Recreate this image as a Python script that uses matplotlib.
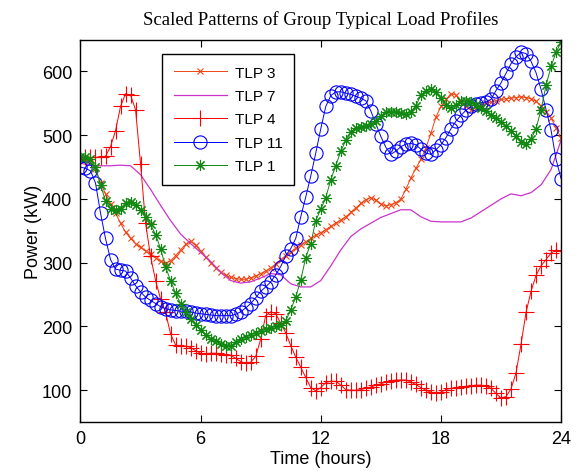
import numpy as np
import matplotlib
matplotlib.use('Agg')
import matplotlib.pyplot as plt

# time axes (15 min steps for marked series, 30 min for TLP 7)
t = np.arange(97) * 0.25
t_half = np.arange(49) * 0.5

tlp3 = [465, 463, 458, 447, 425, 408, 392, 378, 362, 348, 338, 330, 324, 318, 313, 308,
        302, 299, 303, 311, 320, 329, 334, 327, 318, 309, 300, 292, 285, 280, 277, 275,
        274, 274, 276, 279, 283, 287, 292, 298, 305, 311, 317, 323, 328, 333, 338, 343,
        347, 352, 357, 362, 367, 372, 379, 386, 393, 399, 402, 398, 392, 389, 391, 394,
        400, 415, 433, 448, 462, 480, 503, 528, 545, 556, 565, 563, 552, 545, 540, 543,
        547, 550, 552, 554, 556, 557, 558, 559, 560, 559, 557, 553, 546, 537, 527, 512,
        495]

tlp7 = [456, 453, 452, 452, 453, 452, 438, 415, 390, 366, 345, 330, 316, 302, 285, 272,
        268, 270, 276, 283, 281, 267, 262, 262, 272, 295, 320, 341, 353, 362, 371, 377,
        383, 383, 372, 365, 364, 364, 364, 370, 380, 390, 400, 408, 405, 410, 422, 446,
        492]

tlp4 = [463, 466, 465, 465, 466, 467, 482, 507, 545, 565, 563, 540, 455, 362, 310, 272,
        243, 222, 188, 171, 169, 169, 167, 162, 158, 157, 158, 158, 157, 156, 155, 150,
        145, 142, 144, 153, 180, 217, 223, 220, 205, 190, 170, 152, 136, 120, 104, 99,
        104, 112, 114, 114, 108, 101, 100, 100, 101, 103, 105, 108, 110, 113, 115, 116,
        116, 116, 113, 109, 104, 100, 97, 95, 97, 101, 103, 104, 105, 106, 107, 108,
        108, 106, 103, 95, 88, 90, 102, 127, 172, 222, 255, 280, 295, 305, 315, 320,
        318]

tlp11 = [450, 448, 444, 425, 378, 338, 305, 290, 288, 287, 276, 264, 254, 246, 241, 236,
         231, 228, 226, 225, 224, 224, 223, 221, 220, 219, 218, 217, 217, 217, 217, 219,
         223, 229, 236, 245, 255, 262, 270, 281, 294, 311, 322, 338, 372, 403, 436, 472,
         510, 545, 562, 568, 568, 566, 564, 561, 558, 554, 538, 518, 498, 481, 470, 475,
         482, 486, 487, 485, 478, 472, 470, 477, 485, 496, 510, 522, 531, 539, 545, 549,
         551, 552, 556, 570, 582, 597, 612, 623, 630, 628, 616, 598, 572, 540, 508, 462,
         432]

tlp1 = [466, 465, 462, 450, 422, 397, 385, 383, 385, 394, 395, 391, 382, 372, 360, 344,
        322, 293, 272, 252, 236, 223, 212, 203, 195, 186, 181, 177, 173, 169, 170, 175,
        180, 184, 187, 190, 193, 196, 198, 200, 203, 209, 226, 246, 273, 308, 330, 366,
        384, 402, 430, 452, 475, 492, 505, 512, 513, 514, 517, 522, 530, 537, 537, 537,
        535, 533, 537, 546, 563, 570, 572, 567, 558, 548, 543, 548, 553, 553, 552, 548,
        543, 538, 532, 527, 521, 514, 507, 498, 490, 486, 494, 510, 540, 578, 608, 630,
        646]

x_ticks = [0, 6, 12, 18, 24]
y_ticks = [100, 200, 300, 400, 500, 600]

plt.rcParams['font.family'] = ['Liberation Sans', 'DejaVu Sans']

fig = plt.figure(figsize=(5.79, 4.77), dpi=100)
ax = fig.add_axes([0.139, 0.113, 0.830, 0.802])

ax.plot(t, tlp3, color='#EE4411', lw=0.7, marker='x', ms=4.5, mew=0.8, label='TLP 3')
ax.plot(t_half, tlp7, color='#CC33CC', lw=0.9, label='TLP 7')
ax.plot(t, tlp4, color='#FF0000', lw=0.7, marker='+', ms=11, mew=0.8, label='TLP 4')
ax.plot(t, tlp11, color='#0000FF', lw=0.7, marker='o', ms=9.5, mew=0.8,
        mfc='none', label='TLP 11')
ax.plot(t, tlp1, color='#118811', lw=0.7, marker=(8, 2, 0), ms=8, mew=0.8, label='TLP 1')

ax.set_xlim(0, 24)
ax.set_ylim(50, 650)
ax.set_xticks(x_ticks)
ax.set_yticks(y_ticks)
ax.tick_params(direction='in', top=True, right=True, length=5, width=0.8,
               labelsize=13, pad=6)
for sp in ax.spines.values():
    sp.set_linewidth(1.0)

ax.set_xlabel('Time (hours)', fontsize=13, labelpad=2)
ax.set_ylabel('Power (kW)', fontsize=13, labelpad=0)
ax.set_title('Scaled Patterns of Group Typical Load Profiles',
             family='Liberation Serif', fontsize=13.5, pad=11)

leg = ax.legend(loc='upper left', bbox_to_anchor=(0.170, 0.962), borderaxespad=0,
                fontsize=11, handlelength=3.5, handletextpad=0.5, borderpad=0.75,
                labelspacing=0.62, fancybox=False, framealpha=1, edgecolor='black')
leg.get_frame().set_linewidth(1.0)

plt.savefig('out.png', dpi=100)
